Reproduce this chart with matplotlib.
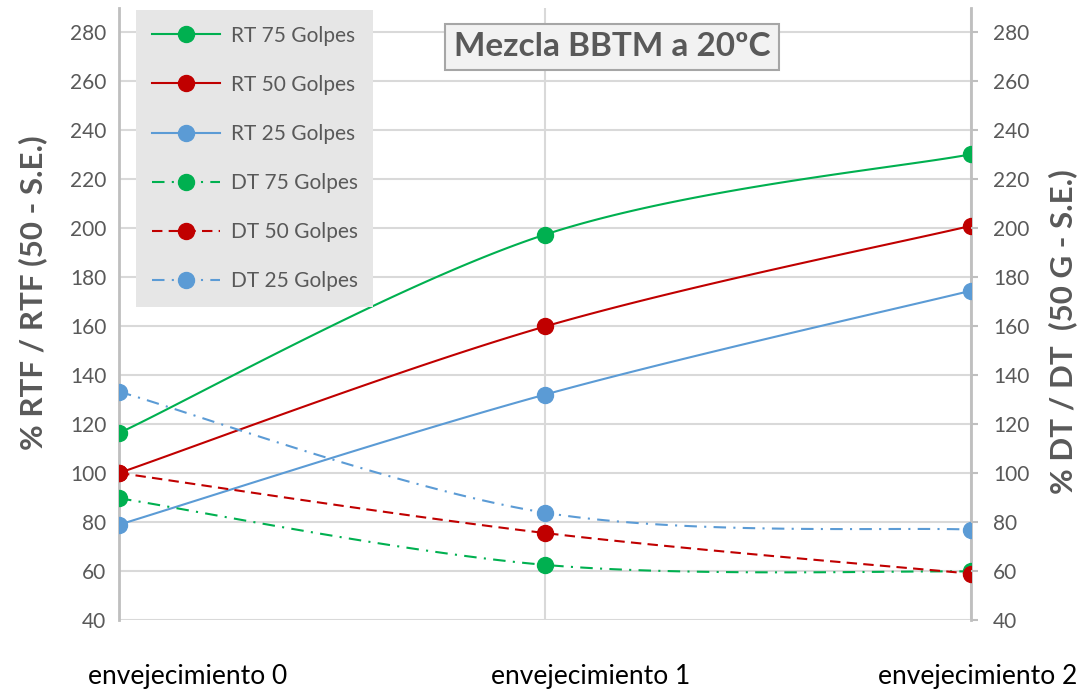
import numpy as np
import matplotlib.pyplot as plt
from matplotlib.lines import Line2D

categories = ["envejecimiento 0", "envejecimiento 1", "envejecimiento 2"]

rt75 = [116.3, 197.3, 230.1]
rt50 = [100.0, 159.8, 200.9]
rt25 = [78.9, 132.0, 174.4]
dt75 = [89.7, 62.5, 59.8]
dt50 = [100.0, 75.5, 58.9]
dt25 = [133.2, 83.8, 76.9]

GREEN = "#00b050"
RED = "#c00000"
BLUE = "#5b9bd5"
GREY_TXT = "#595959"

plt.rcParams['font.family'] = ["Lato", "DejaVu Sans"]


def smooth(ys, n=60):
    # bezier segments with catmull-rom control points (like excel "smoothed line")
    pts = np.column_stack([np.arange(len(ys), dtype=float), np.asarray(ys, float)])
    ext = np.vstack([pts[0], pts, pts[-1]])
    out = []
    t = np.linspace(0, 1, n)[:, None]
    for i in range(len(pts) - 1):
        p0, p1 = ext[i + 1], ext[i + 2]
        c1 = p0 + (ext[i + 2] - ext[i]) / 6.0
        c2 = p1 - (ext[i + 3] - ext[i + 1]) / 6.0
        seg = (1 - t) ** 3 * p0 + 3 * (1 - t) ** 2 * t * c1 + 3 * (1 - t) * t ** 2 * c2 + t ** 3 * p1
        out.append(seg if i == 0 else seg[1:])
    seg = np.vstack(out)
    return seg[:, 0], seg[:, 1]


fig = plt.figure(figsize=(10.83, 6.91), dpi=100)
ax = fig.add_axes([119 / 1083, 1 - 620 / 691, (971 - 119) / 1083, (620 - 7.5) / 691])

series = [
    ("RT 75 Golpes", rt75, GREEN, "-"),
    ("RT 50 Golpes", rt50, RED, "-"),
    ("RT 25 Golpes", rt25, BLUE, "-"),
    ("DT 75 Golpes", dt75, GREEN, (0, (6, 3.5, 1, 3.5))),
    ("DT 50 Golpes", dt50, RED, (0, (5, 3))),
    ("DT 25 Golpes", dt25, BLUE, (0, (6, 3.5, 1, 3.5))),
]

x = np.arange(len(categories))
handles = []
for name, ys, col, ls in series:
    sx, sy = smooth(ys)
    ax.plot(sx, sy, color=col, lw=1.5, ls=ls, zorder=3)
    ax.plot(x, ys, "o", color=col, ms=11.5, mec=col, zorder=4)
    handles.append(Line2D([0], [0], color=col, lw=1.5, ls=ls, marker="o", ms=11.5))

ax.set_xlim(0, 2)
ax.set_ylim(40, 290)
ax.set_yticks(np.arange(40, 281, 20))
ax.set_xticks(x)
ax.set_xticklabels([])
ax.grid(True, color="#d9d9d9", lw=1.5)
ax.set_axisbelow(True)
for s in ["top", "bottom"]:
    ax.spines[s].set_visible(False)
for s in ["left", "right"]:
    ax.spines[s].set_color("#bfbfbf")
    ax.spines[s].set_linewidth(2)
ax.tick_params(axis="x", length=0)
ax.tick_params(axis="y", length=0, labelsize=15, labelcolor=GREY_TXT, pad=9)

ax2 = ax.twinx()
ax2.set_ylim(40, 290)
ax2.set_yticks(np.arange(40, 281, 20))
for s in ax2.spines.values():
    s.set_visible(False)
ax2.tick_params(axis="y", length=5, width=1.5, color="#bfbfbf", labelsize=15,
                labelcolor=GREY_TXT, pad=11)

ax.text(33 / 1083, 1 - 293 / 691, "% RTF / RTF (50 - S.E.)", transform=fig.transFigure,
        rotation=90, ha="center", va="center", fontsize=22.5, fontweight="bold",
        color=GREY_TXT)
ax.text(1063 / 1083, 1 - 332 / 691, "% DT / DT  (50 G - S.E.)", transform=fig.transFigure,
        rotation=90, ha="center", va="center", fontsize=22.5, fontweight="bold",
        color=GREY_TXT)

# category labels below the plot
offsets = [0.16, 0.106, 0.016]
for i, lab in enumerate(categories):
    ax.text(i + offsets[i], -0.092, lab, transform=ax.get_xaxis_transform(),
            ha="center", va="center", fontsize=19, color="black")

leg = ax.legend(handles, [s[0] for s in series], loc="upper left",
                bbox_to_anchor=(17 / 852, 1 - 2.5 / 612.5), fontsize=15,
                labelcolor=GREY_TXT, handlelength=3.3, handletextpad=0.5,
                labelspacing=1.4, borderpad=0.75, borderaxespad=0,
                frameon=True, fancybox=False, facecolor="#e6e6e6",
                edgecolor="none", framealpha=1)
leg.set_zorder(5)

ax.text(612 / 1083, 1 - 47 / 691, "Mezcla BBTM a 20ºC", transform=fig.transFigure,
        ha="center", va="center", fontsize=24, fontweight="bold", color=GREY_TXT,
        zorder=6, bbox=dict(boxstyle="square,pad=0.25", fc="#f2f2f2", ec="#a6a6a6", lw=1.5))

fig.savefig("out.png", dpi=100)
